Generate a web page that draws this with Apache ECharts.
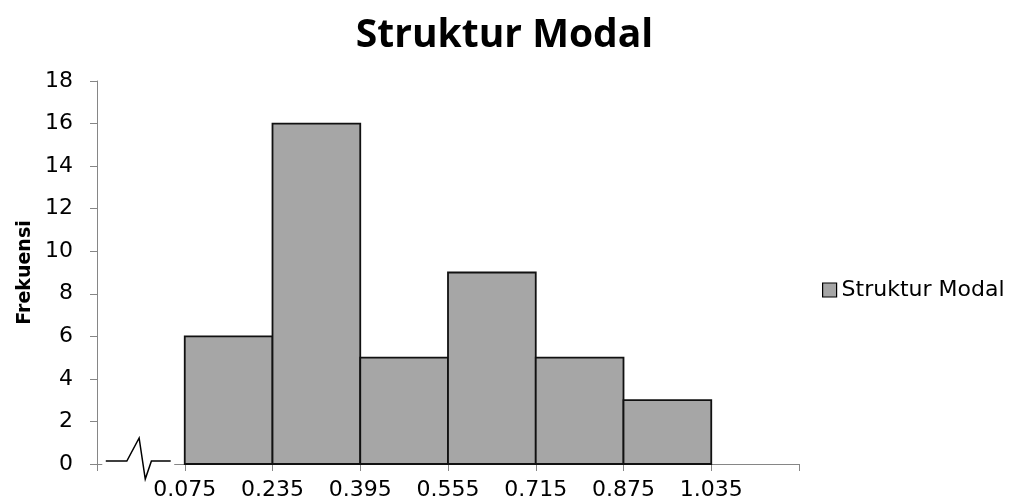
<!DOCTYPE html>
<html>
<head>
<meta charset="utf-8">
<script src="https://cdn.jsdelivr.net/npm/echarts@6/dist/echarts.min.js"></script>
<style>
  html, body { margin: 0; padding: 0; background: #fff; }
  #chart { width: 1009px; height: 504px; }
</style>
</head>
<body>
<div id="chart"></div>
<script>
// Class boundaries of the histogram and the frequency of each class
const tickLabels = ['0.075', '0.235', '0.395', '0.555', '0.715', '0.875', '1.035'];
const frequencies = [6, 16, 5, 9, 5, 3];
const seriesName = 'Struktur Modal';

// Axis slots: slot 0 holds the axis break, bins occupy slots 1..6, slot 7 is empty
const firstBinSlot = 1;
const bins = frequencies.map((f, i) => [firstBinSlot + i, firstBinSlot + i + 1, f]);

const FONT = 'DejaVu Sans';
const chart = echarts.init(document.getElementById('chart'));

chart.setOption({
  animation: false,
  backgroundColor: '#ffffff',
  title: {
    text: 'Struktur Modal',
    left: 'center',
    top: 11,
    textStyle: { fontFamily: 'Open Sans', fontWeight: 'bold', fontSize: 39, color: '#000' }
  },
  legend: {
    left: 817,
    top: 274,
    icon: 'rect',
    itemWidth: 14,
    itemHeight: 14,
    itemGap: 6,
    textStyle: { fontFamily: FONT, fontSize: 22, color: '#000', padding: [0, 0, 0, 0] },
    data: [{ name: seriesName, itemStyle: { color: '#a6a6a6', borderColor: '#000', borderWidth: 1.2 } }]
  },
  grid: { left: 97, right: 210, top: 81, bottom: 40, containLabel: false },
  xAxis: {
    type: 'value',
    min: 0,
    max: 8,
    interval: 1,
    axisLine: { show: true, lineStyle: { color: '#868686', width: 1 } },
    axisTick: { show: true, length: 7, lineStyle: { color: '#868686' } },
    splitLine: { show: false },
    axisLabel: {
      fontFamily: FONT, fontSize: 22, color: '#000', margin: 15,
      showMinLabel: true, showMaxLabel: true,
      formatter: v => {
        const i = Math.round(v) - firstBinSlot;
        return (i >= 0 && i < tickLabels.length) ? tickLabels[i] : '';
      }
    }
  },
  yAxis: {
    type: 'value',
    min: 0,
    max: 18,
    interval: 2,
    name: 'Frekuensi',
    nameLocation: 'middle',
    nameRotate: 90,
    nameGap: 58,
    nameTextStyle: { fontFamily: FONT, fontWeight: 'bold', fontSize: 19, color: '#000' },
    axisLine: { show: true, lineStyle: { color: '#868686', width: 1 } },
    axisTick: { show: true, inside: false, length: 7, lineStyle: { color: '#868686' } },
    splitLine: { show: false },
    axisLabel: { fontFamily: FONT, fontSize: 22, color: '#000', margin: 24 }
  },
  series: [{
    name: seriesName,
    type: 'custom',
    itemStyle: { color: '#a6a6a6', borderColor: '#000', borderWidth: 1.5 },
    encode: { x: [0, 1], y: 2 },
    renderItem: (params, api) => {
      const p0 = api.coord([api.value(0), api.value(2)]);
      const p1 = api.coord([api.value(1), 0]);
      return {
        type: 'rect',
        shape: { x: p0[0], y: p0[1], width: p1[0] - p0[0], height: p1[1] - p0[1] },
        style: { fill: '#a6a6a6', stroke: '#111', lineWidth: 1.8 }
      };
    },
    data: bins
  }]
});

// Axis break drawn in the empty first slot of the x axis
const origin = chart.convertToPixel({ xAxisIndex: 0, yAxisIndex: 0 }, [0, 0]);
const slotEnd = chart.convertToPixel({ xAxisIndex: 0, yAxisIndex: 0 }, [1, 0]);
const slotW = slotEnd[0] - origin[0];
const ox = origin[0], oy = origin[1];
chart.setOption({
  graphic: [
    {
      type: 'rect',
      shape: { x: ox + slotW * 0.06, y: oy - 2, width: slotW * 0.82, height: 4 },
      style: { fill: '#fff' },
      z: 100
    },
    {
      type: 'polyline',
      shape: {
        points: [
          [ox + slotW * 0.10, oy - 3],
          [ox + slotW * 0.34, oy - 3],
          [ox + slotW * 0.48, oy - 26],
          [ox + slotW * 0.55, oy + 15],
          [ox + slotW * 0.62, oy - 3],
          [ox + slotW * 0.84, oy - 3]
        ]
      },
      style: { stroke: '#000', lineWidth: 1.5, fill: null },
      z: 101
    }
  ]
});
</script>
</body>
</html>
